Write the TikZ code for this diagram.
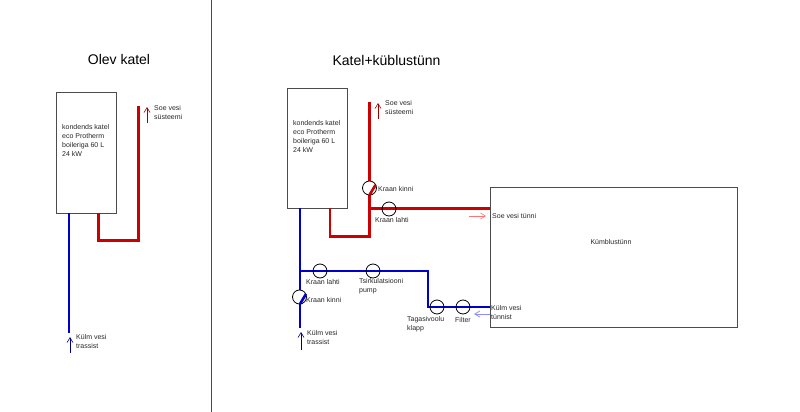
\documentclass[tikz,border=0pt]{standalone}
\usepackage{fontspec}
\setmainfont{Liberation Sans}
\usepackage{tikz}
\usetikzlibrary{arrows.meta}

\begin{document}
\begin{tikzpicture}[x=1pt,y=-1pt,
  box/.style={rectangle, draw=black!70, line width=0.8pt, inner sep=0pt, anchor=north west},
  hot/.style={draw=red!80!black, line width=2.6pt},
  cold/.style={draw=blue!80!black, line width=2.6pt},
  valve/.style={circle, draw=black, line width=0.8pt, minimum size=14pt, inner sep=0pt},
  lbl/.style={anchor=west, inner sep=0pt, align=left, font=\fontsize{7}{9}\selectfont, text=black!85},
  heading/.style={inner sep=0pt, font=\fontsize{14}{17}\selectfont},
  flowhot/.style={draw=red!60!black, line width=0.6pt, -{Straight Barb[length=5pt,width=6pt]}},
  flowcold/.style={draw=blue!50!black, line width=0.6pt, -{Straight Barb[length=5pt,width=6pt]}},
  flowhotlt/.style={draw=red!55, line width=0.6pt, -{Straight Barb[length=5pt,width=6pt]}},
  flowcoldlt/.style={draw=blue!45, line width=0.8pt, -{Straight Barb[length=5pt,width=6pt]}}
]
\useasboundingbox (0,0) rectangle (800,412);

% Divider
\coordinate (divtop) at (211,0);
\coordinate (divbot) at (211,412);
\draw[black!70, line width=0.8pt] (divtop) -- (divbot);

% Olev katel
\node[heading] (title1) at (119,59) {Olev katel};
\node[box, minimum width=60pt, minimum height=121pt] (boiler1) at (56,92) {};
\node[lbl] (boiler1txt) at (62,140) {kondends katel\\eco Protherm\\boileriga 60 L\\24 kW};

\coordinate (cold1a) at (69,213);
\coordinate (cold1b) at (69,333);
\coordinate (hot1a) at (98.5,213);
\coordinate (hot1b) at (98.5,240.5);
\coordinate (hot1c) at (138.5,240.5);
\coordinate (hot1d) at (138.5,106);
\draw[cold] (cold1a) -- (cold1b);
\draw[hot] (hot1a) -- (hot1b) -- (hot1c) -- (hot1d);

\node[lbl] (soe1) at (154,112.5) {Soe vesi\\süsteemi};
\node[lbl] (kylm1) at (76,341.5) {Külm vesi\\trassist};
\coordinate (fh1a) at (147,123);
\coordinate (fh1b) at (147,107);
\coordinate (fc1a) at (70,353);
\coordinate (fc1b) at (70,337);
\draw[flowhot] (fh1a) -- (fh1b);
\draw[flowcold] (fc1a) -- (fc1b);

% Katel+kyblustynn
\node[heading] (title2) at (386.5,60) {Katel+küblustünn};
\node[box, minimum width=60pt, minimum height=120pt] (boiler2) at (287,88) {};
\node[lbl] (boiler2txt) at (293,136) {kondends katel\\eco Protherm\\boileriga 60 L\\24 kW};
\node[box, minimum width=247pt, minimum height=140pt] (tub) at (490,187) {};
\node[lbl, anchor=center] (tubtxt) at (611,242) {Kümblustünn};

% Hot side
\coordinate (hot2a) at (330,208);
\coordinate (hot2b) at (330,236.5);
\coordinate (hot2c) at (369.5,236.5);
\coordinate (hot2d) at (369.5,208.5);
\coordinate (hot2e) at (369.5,102);
\coordinate (hot2f) at (490,208.5);
\coordinate (hot2g) at (369.5,181);
\coordinate (hot2h) at (369.5,195);
\coordinate (hot2i) at (375.5,185);
\draw[hot] (hot2a) -- (hot2b) -- (hot2c) -- (hot2h);
\draw[hot] (hot2e) -- (hot2g);
\draw[hot] (hot2d) -- (hot2f);

\node[valve] (vhot1) at (369.5,188) {};
\node[valve] (vhot2) at (389,209) {};
\draw[hot] (hot2h) -- (hot2i);
\node[lbl] (vhot1txt) at (378,189) {Kraan kinni};
\node[lbl] (vhot2txt) at (375,220) {Kraan lahti};

\node[lbl] (soe2) at (385,107.5) {Soe vesi\\süsteemi};
\coordinate (fh2a) at (378,119);
\coordinate (fh2b) at (378,103);
\draw[flowhot] (fh2a) -- (fh2b);
\node[lbl] (soe3) at (492,216) {Soe vesi tünni};
\coordinate (fh3a) at (469,216);
\coordinate (fh3b) at (486,216);
\draw[flowhotlt] (fh3a) -- (fh3b);

% Cold side
\coordinate (cold2a) at (300,208);
\coordinate (cold2b) at (300,271);
\coordinate (cold2c) at (428,271);
\coordinate (cold2d) at (428,307);
\coordinate (cold2e) at (490,307);
\coordinate (cold2f) at (300,290);
\coordinate (cold2g) at (300,304);
\coordinate (cold2h) at (300,328);
\coordinate (cold2i) at (306,294);
\draw[cold] (cold2a) -- (cold2f);
\draw[cold] (cold2g) -- (cold2h);
\draw[cold] (cold2b) -- (cold2c) -- (cold2d) -- (cold2e);

\node[valve] (vcold1) at (320,271) {};
\node[valve] (pump) at (373,271) {};
\node[valve] (klapp) at (437,307) {};
\node[valve] (filter) at (463,307) {};
\node[valve] (vcold2) at (299.5,297) {};
\draw[cold] (cold2g) -- (cold2i);

\node[lbl] (vcold1txt) at (306,282) {Kraan lahti};
\node[lbl] (pumptxt) at (359,286.5) {Tsirkulatsiooni\\pump};
\node[lbl] (vcold2txt) at (306,300) {Kraan kinni};
\node[lbl] (klapptxt) at (407,324.5) {Tagasivoolu\\klapp};
\node[lbl] (filtertxt) at (455,320) {Filter};
\node[lbl] (kylm3) at (491,312.5) {Külm vesi\\tünnist};
\node[lbl] (kylm2) at (307,337.5) {Külm vesi\\trassist};
\coordinate (fc2a) at (301,350);
\coordinate (fc2b) at (301,332);
\draw[flowcold] (fc2a) -- (fc2b);
\coordinate (fc3a) at (490,314);
\coordinate (fc3b) at (474,314);
\draw[flowcoldlt] (fc3a) -- (fc3b);
\end{tikzpicture}
\end{document}
